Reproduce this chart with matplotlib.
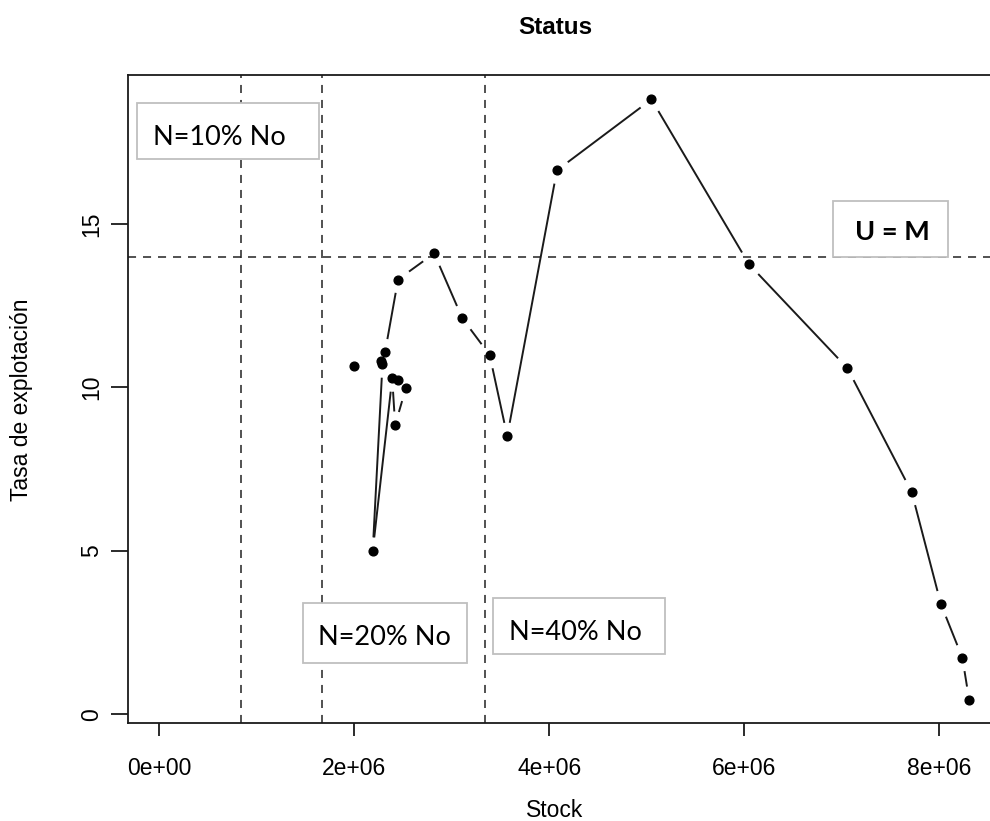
import matplotlib.pyplot as plt
from matplotlib.patches import Rectangle
import numpy as np

plt.rcParams['font.family'] = ['Liberation Sans', 'DejaVu Sans']
plt.rcParams['lines.scale_dashes'] = False

# Serie de estado (orden temporal)
stock = [8.31e6, 8.24e6, 8.02e6, 7.72e6, 7.06e6, 6.05e6, 5.05e6, 4.08e6,
         3.57e6, 3.39e6, 3.11e6, 2.82e6, 2.45e6, 2.316e6, 2.27e6, 2.00e6,
         2.29e6, 2.19e6, 2.39e6, 2.42e6, 2.53e6, 2.45e6]
tasa = [0.44, 1.73, 3.37, 6.80, 10.59, 13.77, 18.81, 16.64,
        8.51, 10.99, 12.11, 14.10, 13.30, 11.07, 10.81, 10.66,
        10.71, 5.00, 10.28, 8.85, 9.98, 10.22]

# Puntos de referencia
ref_stock = [0.835e6, 1.67e6, 3.34e6]
ref_tasa = 14.0

x_ticks = [0, 2e6, 4e6, 6e6, 8e6]
x_tick_labels = ['0e+00', '2e+06', '4e+06', '6e+06', '8e+06']
y_ticks = [0, 5, 10, 15]
y_tick_labels = ['0', '5', '10', '15']

W, H = 990, 821
fig = plt.figure(figsize=(W / 100, H / 100), dpi=100)


def fx(px):
    return px / W


def fy(py):
    return 1 - py / H


# ejes con el mismo marco que el original (borde derecho fuera de la imagen)
ax = fig.add_axes([fx(128.3), fy(723.3), fx(995 - 128.3), fy(75) - fy(723.3)])
ax.set_xlim(-0.318e6, 8.575e6)
ax.set_ylim(-0.275, 19.556)

for s in ax.spines.values():
    s.set_color('#1a1a1a')
    s.set_linewidth(1.3)

ax.set_xticks(x_ticks)
ax.set_xticklabels(x_tick_labels, fontsize=16.5)
ax.set_yticks(y_ticks)
ax.set_yticklabels(y_tick_labels, fontsize=16.5, rotation=90, va='center')
ax.tick_params(axis='x', direction='out', length=9.1, width=1.3, color='#1a1a1a', pad=15)
ax.tick_params(axis='y', direction='out', length=11.9, width=1.3, color='#1a1a1a', pad=6)

# lineas de referencia discontinuas
for xv in ref_stock:
    ax.axvline(xv, color='#222222', lw=1.1, ls=(0, (5.8, 5.0)))
ax.axhline(ref_tasa, color='#222222', lw=1.1, ls=(0, (5.8, 5.0)))

# puntos
ax.plot(stock, tasa, 'o', color='black', markersize=6.3, zorder=3)

# lineas tipo "b" de R: segmentos con hueco alrededor de cada punto
pts = ax.transData.transform(np.column_stack([stock, tasa]))
inv = ax.transData.inverted()
gap = 14.5
for p0, p1 in zip(pts[:-1], pts[1:]):
    d = p1 - p0
    L = np.hypot(d[0], d[1])
    if L <= 2 * gap:
        continue
    u = d / L
    seg = inv.transform([p0 + u * gap, p1 - u * gap])
    ax.plot(seg[:, 0], seg[:, 1], color='#1a1a1a', lw=1.4, zorder=2)

# titulo y etiquetas
fig.text(fx(555), fy(28), 'Status', fontsize=17.5, fontweight='bold', ha='center', va='center')
fig.text(fx(555), fy(810), 'Stock', fontsize=16.5, ha='center', va='center')
fig.text(fx(22), fy(400), 'Tasa de explotación', fontsize=16.5, rotation=90, ha='center', va='center')

# cuadros de texto
boxes = [
    ('N=10% No', (137.3, 102.7, 319.3, 159.0), 219.3, 145.0, 'normal', 19.5),
    ('N=20% No', (303.3, 602.7, 466.7, 662.7), 384.7, 645.0, 'normal', 19.5),
    ('N=40% No', (493.3, 598.3, 665.0, 654.0), 575.3, 640.0, 'normal', 19.5),
    ('U = M', (833.3, 200.7, 948.3, 257.3), 892.0, 240.0, 'bold', 19.5),
]
for label, (x0, y0, x1, y1), tx, ty, fw, fs in boxes:
    fig.add_artist(Rectangle((fx(x0), fy(y1)), fx(x1 - x0), fy(y0) - fy(y1),
                             transform=fig.transFigure, facecolor='white',
                             edgecolor='#bfbfbf', linewidth=1.3, zorder=5))
    fig.text(fx(tx), fy(ty), label, fontsize=fs, fontweight=fw, family='Lato',
             ha='center', va='baseline', zorder=6)

fig.savefig('out.png', dpi=100)
